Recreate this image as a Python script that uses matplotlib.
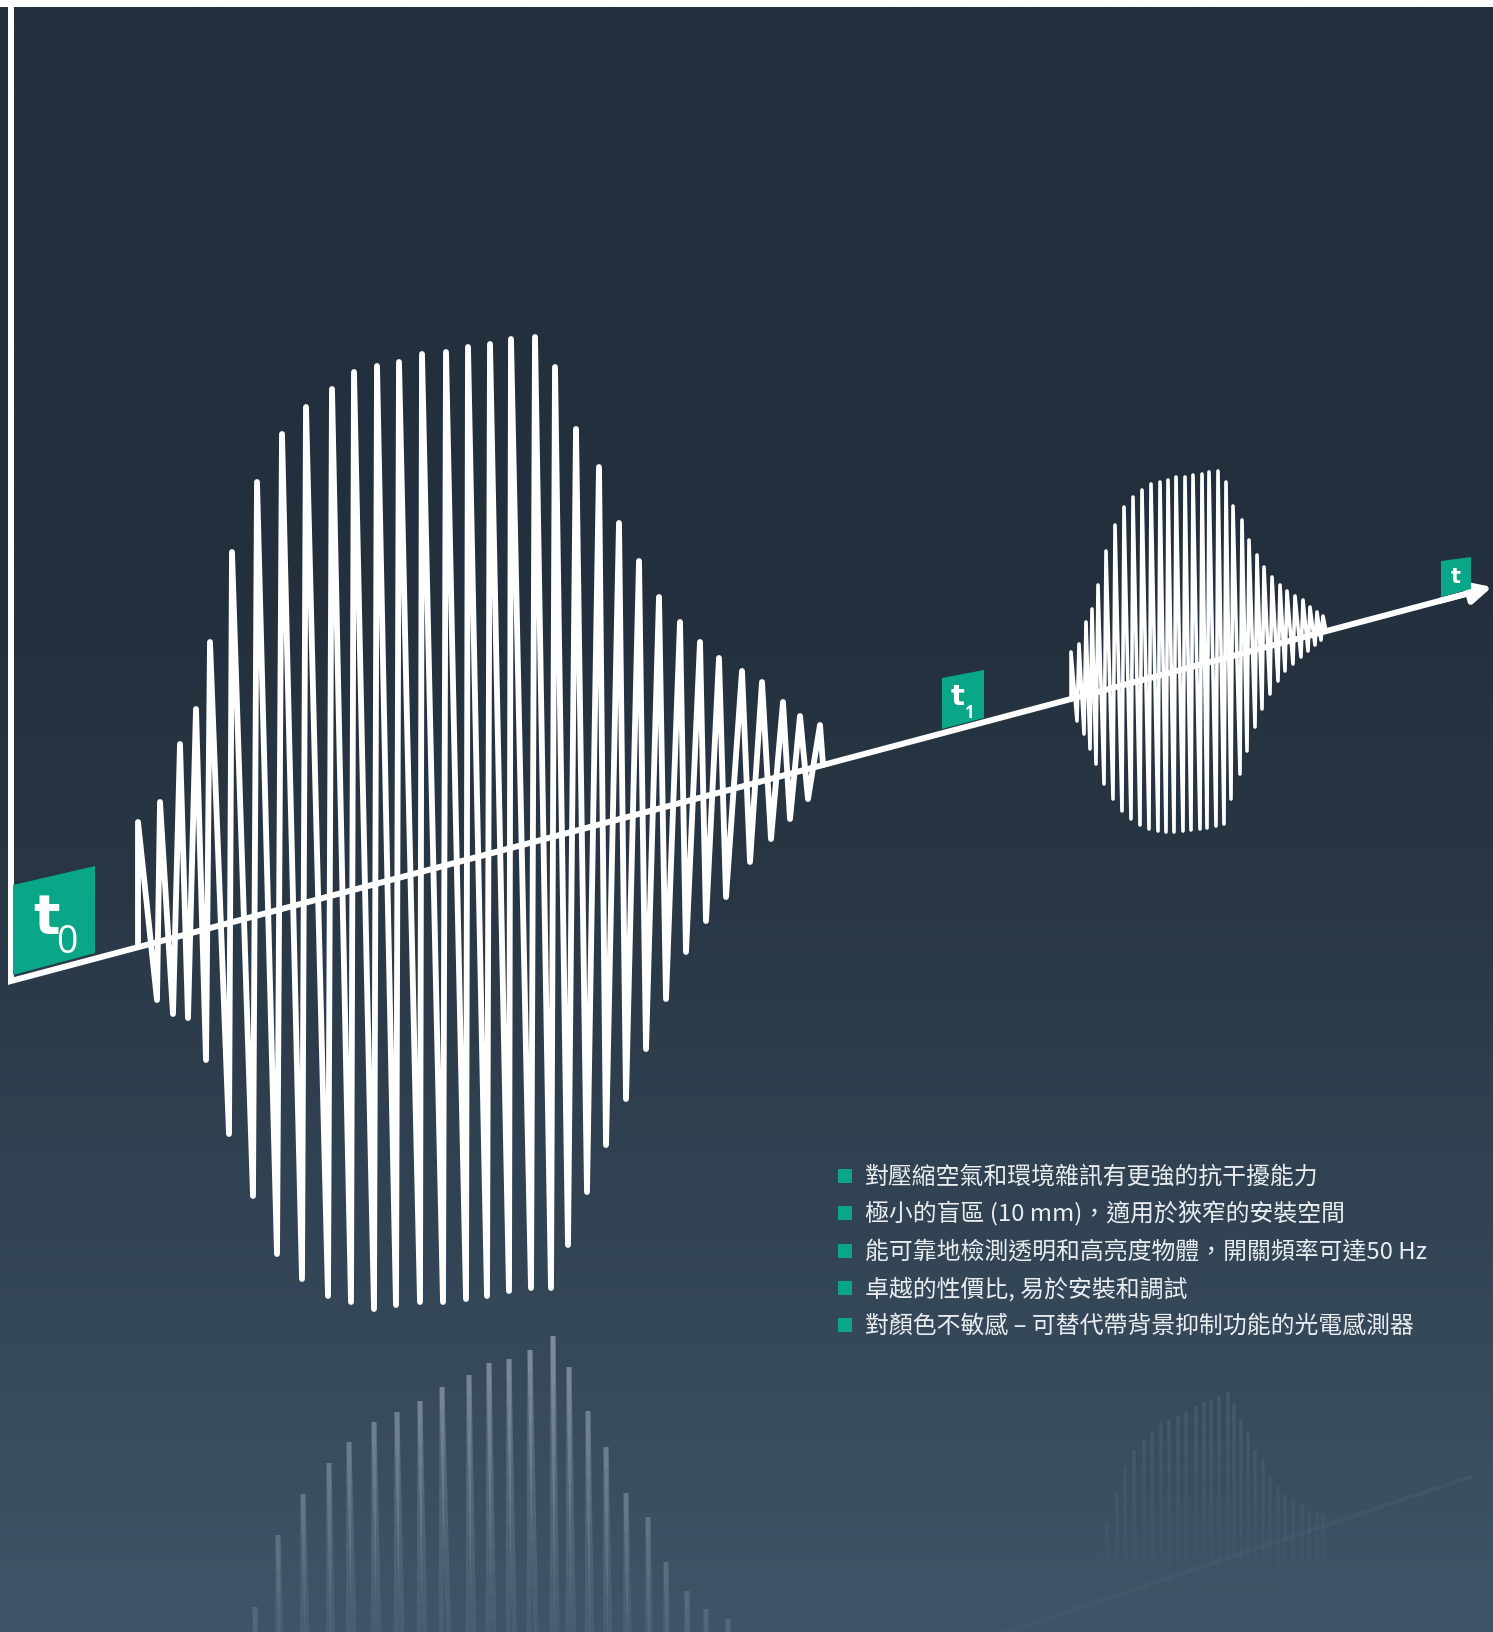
import matplotlib.pyplot as plt
import numpy as np
from matplotlib.collections import LineCollection
from matplotlib.colors import to_rgb

W, H = 1493, 1633

# slanted time axis, origin -> arrow tip (pixel space of the artwork)
axis_x = [11, 1492]
axis_y = [982, 588]
axis_top = 8

# large echo burst: upper and lower turning points
big_top_x = [138, 160, 180, 196, 210, 232, 257, 282, 306, 332, 354, 377, 399, 422, 446, 468, 490,
             511, 535, 555, 576, 599, 619, 639, 659, 680, 700, 719, 742, 762, 783, 800, 820]
big_top_y = [823, 803, 745, 710, 643, 553, 483, 435, 408, 390, 373, 367, 363, 355, 353, 348, 345,
             340, 338, 368, 430, 468, 524, 562, 598, 623, 643, 659, 672, 683, 703, 717, 726]
big_bot_x = [157, 173, 188, 206, 229, 253, 277, 302, 328, 351, 374, 396, 420, 443, 466, 487,
             509, 531, 551, 568, 587, 606, 626, 646, 666, 686, 706, 726, 750, 771, 790, 808]
big_bot_y = [1001, 1015, 1019, 1061, 1135, 1197, 1255, 1280, 1297, 1303, 1310, 1306, 1303, 1303, 1300, 1297,
             1292, 1289, 1289, 1246, 1193, 1146, 1100, 1050, 1000, 953, 922, 898, 863, 840, 820, 800]

# small echo burst
sm_top_x = [1071, 1079, 1086, 1092, 1098, 1106, 1115, 1124, 1133, 1142, 1151, 1160, 1168, 1176, 1185, 1193, 1202,
            1209, 1218, 1226, 1233, 1242, 1249, 1257, 1264, 1272, 1280, 1287, 1295, 1303, 1310, 1317, 1323]
sm_top_y = [653, 645, 623, 610, 586, 552, 526, 508, 498, 491, 485, 483, 481, 478, 478, 476, 475,
            473, 472, 483, 507, 521, 541, 556, 568, 578, 586, 592, 597, 601, 608, 613, 617]
sm_bot_x = [1077, 1084, 1090, 1096, 1104, 1113, 1122, 1131, 1140, 1149, 1158, 1166, 1174, 1183, 1191, 1200,
            1207, 1216, 1224, 1231, 1240, 1247, 1255, 1262, 1270, 1278, 1285, 1293, 1301, 1308, 1315, 1321]
sm_bot_y = [722, 735, 750, 765, 785, 800, 812, 820, 826, 830, 832, 833, 833, 832, 831, 830,
            829, 827, 825, 800, 775, 752, 728, 710, 695, 682, 672, 665, 658, 652, 646, 641]

# mirrored reflections on the "floor"
ref_big_x = [255, 278, 303, 329, 349, 374, 397, 420, 442, 469, 489, 509, 530, 553, 569, 588, 606, 626,
             648, 666, 687, 706, 728]
ref_big_y = [1608, 1536, 1495, 1464, 1443, 1423, 1413, 1402, 1388, 1376, 1364, 1360, 1351, 1337, 1368, 1412,
             1448, 1494, 1518, 1563, 1592, 1610, 1620]
ref_sm_x = [1080, 1085, 1092, 1099, 1107, 1117, 1125, 1134, 1144, 1152, 1161, 1169, 1178, 1186, 1196, 1204,
            1211, 1219, 1228, 1234, 1241, 1248, 1255, 1263, 1270, 1278, 1285, 1293, 1302, 1309, 1317, 1323]
ref_sm_y = [1593, 1580, 1577, 1555, 1523, 1494, 1467, 1451, 1440, 1432, 1424, 1421, 1417, 1412, 1407, 1403,
            1401, 1397, 1393, 1404, 1420, 1433, 1451, 1460, 1477, 1487, 1495, 1499, 1505, 1512, 1513, 1515]
ref_axis_x = [985, 1473]
ref_axis_y = [1640, 1477]

bullets = [
    "對壓縮空氣和環境雜訊有更強的抗干擾能力",
    "極小的盲區 (10 mm)，適用於狹窄的安裝空間",
    "能可靠地檢測透明和高亮度物體，開關頻率可達50 Hz",
    "卓越的性價比, 易於安裝和調試",
    "對顏色不敏感 – 可替代帶背景抑制功能的光電感測器",
]

GREEN = "#09a688"
WHITE = "#ffffff"


def baseline(x):
    return np.interp(x, axis_x, axis_y)


def zigzag(top_x, top_y, bot_x, bot_y):
    xs, ys = [top_x[0]], [baseline(top_x[0])]
    for i in range(len(top_x)):
        xs.append(top_x[i])
        ys.append(top_y[i])
        if i < len(bot_x):
            xs.append(bot_x[i])
            ys.append(bot_y[i])
    xs.append(top_x[-1] + 3)
    ys.append(baseline(top_x[-1] + 3))
    return xs, ys


def spikes(tip_x, tip_y, depth):
    xs, ys = [tip_x[0] - 3], [depth]
    for i in range(len(tip_x)):
        nxt = tip_x[i + 1] if i + 1 < len(tip_x) else tip_x[i] + 20
        xs += [tip_x[i], nxt - 3]
        ys += [tip_y[i], depth]
    return xs, ys


def faded(ax, xs, ys, color, a_top, a_bot, y_top, y_bot, lw, steps=40):
    rgb = to_rgb(color)
    segs, cols = [], []
    for x0, y0, x1, y1 in zip(xs[:-1], ys[:-1], xs[1:], ys[1:]):
        t = np.linspace(0, 1, steps + 1)
        px = x0 + (x1 - x0) * t
        py = y0 + (y1 - y0) * t
        for k in range(steps):
            segs.append([(px[k], py[k]), (px[k + 1], py[k + 1])])
            f = np.clip((0.5 * (py[k] + py[k + 1]) - y_top) / (y_bot - y_top), 0, 1)
            cols.append((*rgb, a_top + (a_bot - a_top) * f))
    ax.add_collection(LineCollection(segs, colors=cols, linewidths=lw, capstyle="butt", zorder=1))


fig = plt.figure(figsize=(W / 100, H / 100), dpi=100, facecolor="white")
ax = fig.add_axes([0, 0, 1, 1])
ax.set_xlim(0, W)
ax.set_ylim(H, 0)
ax.axis("off")

# background gradient
stops = [0.0, 0.35, 0.55, 0.75, 1.0]
stop_cols = np.array([to_rgb(c) for c in ["#222f3c", "#232f3d", "#293745", "#324454", "#3e5569"]])
rows = np.linspace(0, 1, 400)
grad = np.stack([np.interp(rows, stops, stop_cols[:, k]) for k in range(3)], axis=1)
ax.imshow(grad[:, None, :], extent=(0, W, H, axis_top), aspect="auto", interpolation="bilinear", zorder=0)

# reflections
rx, ry = spikes(ref_big_x, ref_big_y, 2300)
faded(ax, rx, ry, "#cfdbe6", 0.28, 0.07, 1330, 1633, 3.6)
rx, ry = spikes(ref_sm_x, ref_sm_y, 2000)
faded(ax, rx, ry, "#cfdbe6", 0.06, 0.0, 1390, 1610, 2.4)
faded(ax, ref_axis_x, ref_axis_y, "#cfdbe6", 0.05, 0.02, 1477, 1640, 3.0)

# echo bursts
for tx, ty, bx, by, lw in [(big_top_x, big_top_y, big_bot_x, big_bot_y, 4.2),
                           (sm_top_x, sm_top_y, sm_bot_x, sm_bot_y, 2.6)]:
    xs, ys = zigzag(tx, ty, bx, by)
    ax.plot(xs, ys, color=WHITE, lw=lw, solid_joinstyle="round", solid_capstyle="round", zorder=3)

# axes
end_x = 1470
ax.plot([axis_x[0], axis_x[0], end_x], [axis_top, axis_y[0], baseline(end_x)],
        color=WHITE, lw=4.3, solid_joinstyle="miter", solid_capstyle="butt", zorder=4)
ax.annotate("", xy=(axis_x[1], axis_y[1]), xytext=(1440, baseline(1440)),
            arrowprops=dict(arrowstyle="-|>", lw=4.3, color=WHITE, mutation_scale=32,
                            shrinkA=0, shrinkB=0), zorder=4)

# time markers: box corners, "t" position/size, subscript text/position/size/weight
markers = [
    ([13, 95, 95, 13], [886, 867, 954, 976], (33, 934, 40), ("0", 56, 953, 27, "normal")),
    ([942, 984, 984, 942], [679, 671, 719, 730], (951, 705, 21), ("1", 964, 718, 12, "bold")),
    ([1441, 1471, 1471, 1441], [562, 558, 590, 598], (1451, 583, 15), None),
]
for cx, cy, (lx, ly, ls), sub in markers:
    ax.fill(cx, cy, color=GREEN, lw=0, zorder=5)
    ax.text(lx, ly, "t", color=WHITE, fontsize=ls, fontweight="bold", family="DejaVu Sans",
            ha="left", va="baseline", zorder=6)
    if sub:
        ax.text(sub[1], sub[2], sub[0], color=WHITE, fontsize=sub[3], fontweight=sub[4],
                family="Open Sans", ha="left", va="baseline", zorder=6)

# bullet list
for i, line in enumerate(bullets):
    y = 1177 + i * 37.3
    ax.plot([845], [y], marker="s", ms=10, color=GREEN, mew=0, zorder=6)
    ax.text(865, y, line, color="#e9edf0", fontsize=17.2, va="center", ha="left",
            family=["Noto Sans CJK TC", "DejaVu Sans"], zorder=6)

fig.savefig("out.png", dpi=100, facecolor="white")
